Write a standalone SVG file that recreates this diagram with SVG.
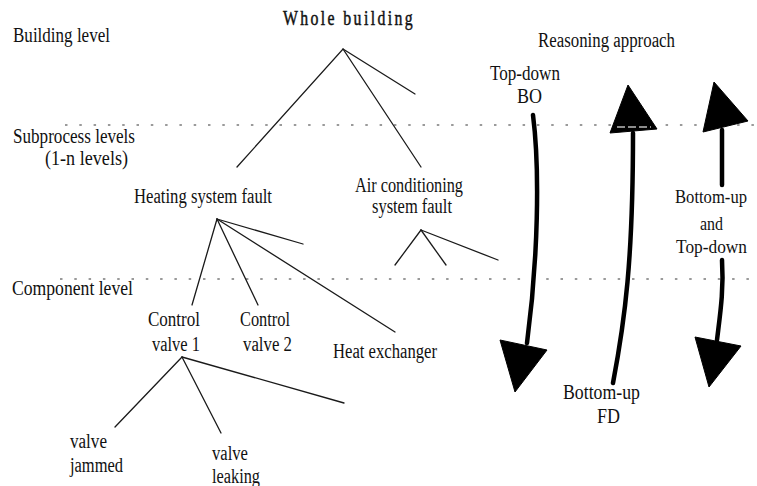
<svg xmlns="http://www.w3.org/2000/svg" width="757" height="486" viewBox="0 0 757 486">
  <style>
    text { font-family: "Liberation Serif", "Times New Roman", serif; font-size: 20.5px; fill: #111; }
    .title { font-size: 20px; letter-spacing: 3px; stroke: #111; stroke-width: 0.45; }
    .edge { font-size: 18px; }
    .tree { stroke: #1a1a1a; stroke-width: 1.3; fill: none; stroke-linecap: round; }
    .level { stroke: #7a7a7a; stroke-width: 1.6; stroke-dasharray: 2.5 11.8; fill: none; }
    .shaft { stroke: #000; stroke-width: 4.5; fill: none; stroke-linecap: round; }
    .head { fill: #000; stroke: #000; stroke-width: 1; stroke-linejoin: round; }
  </style>

  <!-- level separators -->
  <g id="levels">
    <line class="level" x1="65" y1="125" x2="757" y2="125"/>
    <line class="level" x1="60" y1="279" x2="757" y2="279"/>
  </g>

  <!-- level labels -->
  <g id="level-labels">
    <text x="13" y="42" textLength="97" lengthAdjust="spacingAndGlyphs">Building level</text>
    <text x="13" y="143" textLength="122" lengthAdjust="spacingAndGlyphs">Subprocess levels</text>
    <text x="45" y="165" textLength="83" lengthAdjust="spacingAndGlyphs">(1-n levels)</text>
    <text x="12" y="295" textLength="121" lengthAdjust="spacingAndGlyphs">Component level</text>
  </g>

  <!-- tree branches -->
  <g id="connectors">
    <polyline class="tree" points="237,167 343,49 421,167"/>
    <line class="tree" x1="343" y1="49" x2="415" y2="94"/>
    <line class="tree" x1="217" y1="219" x2="303" y2="244"/>
    <line class="tree" x1="217" y1="219" x2="192" y2="305"/>
    <line class="tree" x1="217" y1="219" x2="258" y2="305"/>
    <line class="tree" x1="217" y1="219" x2="395" y2="332"/>
    <line class="tree" x1="421" y1="230" x2="395" y2="265"/>
    <line class="tree" x1="421" y1="230" x2="446" y2="265"/>
    <line class="tree" x1="421" y1="230" x2="498" y2="260"/>
    <line class="tree" x1="182" y1="357" x2="115" y2="427"/>
    <line class="tree" x1="182" y1="357" x2="221" y2="433"/>
    <line class="tree" x1="182" y1="357" x2="344" y2="403"/>
  </g>

  <!-- nodes -->
  <g id="whole-building">
    <text class="title" x="283" y="25" textLength="132" lengthAdjust="spacingAndGlyphs">Whole building</text>
  </g>
  <g id="heating-system-fault">
    <text x="134" y="203" textLength="138" lengthAdjust="spacingAndGlyphs">Heating system fault</text>
  </g>
  <g id="air-conditioning-fault">
    <text x="355" y="192" textLength="108" lengthAdjust="spacingAndGlyphs">Air conditioning</text>
    <text x="372" y="213" textLength="80" lengthAdjust="spacingAndGlyphs">system fault</text>
  </g>
  <g id="control-valve-1">
    <text x="148" y="326" textLength="52" lengthAdjust="spacingAndGlyphs">Control</text>
    <text x="152" y="351" textLength="48" lengthAdjust="spacingAndGlyphs">valve 1</text>
  </g>
  <g id="control-valve-2">
    <text x="240" y="326" textLength="50" lengthAdjust="spacingAndGlyphs">Control</text>
    <text x="243" y="351" textLength="49" lengthAdjust="spacingAndGlyphs">valve 2</text>
  </g>
  <g id="heat-exchanger">
    <text x="333" y="358" textLength="104" lengthAdjust="spacingAndGlyphs">Heat exchanger</text>
  </g>
  <g id="valve-jammed">
    <text x="70" y="448" textLength="37" lengthAdjust="spacingAndGlyphs">valve</text>
    <text x="70" y="472" textLength="53" lengthAdjust="spacingAndGlyphs">jammed</text>
  </g>
  <g id="valve-leaking">
    <text x="212" y="460" textLength="36" lengthAdjust="spacingAndGlyphs">valve</text>
    <text x="212" y="483" textLength="48" lengthAdjust="spacingAndGlyphs">leaking</text>
  </g>

  <!-- reasoning approach -->
  <g id="reasoning-approach">
    <text x="538" y="47" textLength="137" lengthAdjust="spacingAndGlyphs">Reasoning approach</text>
  </g>
  <g id="top-down-bo">
    <text x="490" y="80" textLength="70" lengthAdjust="spacingAndGlyphs">Top-down</text>
    <text x="517" y="103" textLength="25" lengthAdjust="spacingAndGlyphs">BO</text>
    <path class="shaft" d="M533,115 C540,170 538,260 527,343"/>
    <polygon class="head" points="500,340 547,350 515,392"/>
  </g>
  <g id="bottom-up-fd">
    <path class="shaft" d="M613,383 C625,320 633,260 633,133"/>
    <polygon class="head" points="628,85 610,133 657,129"/>
    <line x1="617" y1="127" x2="651" y2="127" stroke="#bbb" stroke-width="1.5" stroke-dasharray="8 3"/>
    <text x="563" y="399" textLength="77" lengthAdjust="spacingAndGlyphs">Bottom-up</text>
    <text x="597" y="423" textLength="23" lengthAdjust="spacingAndGlyphs">FD</text>
  </g>
  <g id="bottom-up-and-top-down">
    <line class="shaft" x1="722" y1="130" x2="722" y2="185"/>
    <polygon class="head" points="714,82 703,132 748,121"/>
    <text class="edge" x="675" y="203" textLength="72" lengthAdjust="spacingAndGlyphs">Bottom-up</text>
    <text class="edge" x="700" y="230" textLength="23" lengthAdjust="spacingAndGlyphs">and</text>
    <text class="edge" x="676" y="253" textLength="71" lengthAdjust="spacingAndGlyphs">Top-down</text>
    <path class="shaft" d="M722,260 C724,290 720,315 717,340"/>
    <polygon class="head" points="695,337 741,346 709,387"/>
  </g>
</svg>
